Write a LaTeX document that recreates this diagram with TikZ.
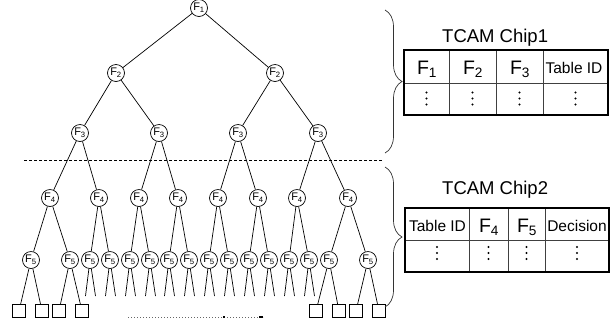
\documentclass[tikz,border=0pt]{standalone}
\usepackage{fontspec}
\setmainfont{Liberation Sans}
\usetikzlibrary{decorations.pathreplacing}
\begin{document}
\begin{tikzpicture}[x=1pt,y=-1pt,
  fn/.style={circle,draw,line width=0.7pt,inner sep=0pt,minimum size=17pt,font=\fontsize{11}{11}\selectfont},
  leaf/.style={rectangle,draw,line width=0.7pt,inner sep=0pt,minimum size=13pt},
  edge/.style={line width=0.7pt},
  bracestyle/.style={decorate,decoration={brace,amplitude=17pt},line width=0.7pt,black!80},
  title/.style={anchor=base west,inner sep=0pt,font=\fontsize{18.5}{18.5}\selectfont},
  hbig/.style={anchor=base,inner sep=0pt,font=\fontsize{19.5}{19.5}\selectfont},
  hsmall/.style={anchor=base,inner sep=0pt,font=\fontsize{15.5}{15.5}\selectfont},
  dot/.style={fill=black},
  outer/.style={line width=1.3pt},
  inner/.style={line width=0.8pt,black!75}]
\useasboundingbox (0,0) rectangle (612,325);

% tree nodes
\node[fn] (a) at (199,8) {F\textsubscript{1}};
\node[fn] (b1) at (116,73) {F\textsubscript{2}};
\node[fn] (b2) at (275,73) {F\textsubscript{2}};
\foreach \x [count=\i] in {80,159,238,318}
  \node[fn] (c\i) at (\x,133) {F\textsubscript{3}};
\foreach \x [count=\i] in {50,99,139,178,218,258,297,348}
  \node[fn] (d\i) at (\x,198) {F\textsubscript{4}};
\foreach \x [count=\i] in {31,70,90,110,130,150,169,189,209,229,249,269,289,309,329,368}
  \node[fn] (e\i) at (\x,260) {F\textsubscript{5}};
\foreach \x [count=\i] in {19,42,59,82,316,339,356,379}
  \node[leaf] (s\i) at (\x,311) {};

% edges
\draw[edge] (a) -- (b1);
\draw[edge] (a) -- (b2);
\draw[edge] (b1) -- (c1);
\draw[edge] (b1) -- (c2);
\draw[edge] (b2) -- (c3);
\draw[edge] (b2) -- (c4);
\foreach \i [evaluate=\i as \l using int(2*\i-1), evaluate=\i as \r using int(2*\i)] in {1,...,4}{
  \draw[edge] (c\i) -- (d\l);
  \draw[edge] (c\i) -- (d\r);
}
\foreach \i [evaluate=\i as \l using int(2*\i-1), evaluate=\i as \r using int(2*\i)] in {1,...,8}{
  \draw[edge] (d\i) -- (e\l);
  \draw[edge] (d\i) -- (e\r);
}
\draw[edge] (e1) -- (s1);
\draw[edge] (e1) -- (s2);
\draw[edge] (e2) -- (s3);
\draw[edge] (e2) -- (s4);
\draw[edge] (e15) -- (s5);
\draw[edge] (e15) -- (s6);
\draw[edge] (e16) -- (s7);
\draw[edge] (e16) -- (s8);
\foreach \i in {3,...,14}{
  \coordinate (eL\i) at ([xshift=-4.5pt]e\i.center |- 0,296);
  \coordinate (eR\i) at ([xshift=5.5pt]e\i.center |- 0,296);
  \draw[edge] (e\i) -- (eL\i);
  \draw[edge] (e\i) -- (eR\i);
}

% dashed separator
\draw[line width=0.8pt,dash pattern=on 3pt off 2pt] (24,160) -- (383,160);
% dotted line at bottom
\draw[line width=1pt,black!60,dash pattern=on 1pt off 2pt] (128,317) -- (263,317);
\fill (223,316) rectangle (225,318);
\fill (259,316) rectangle (263,318);

% braces
\draw[bracestyle] (385,10) -- (385,153);
\draw[bracestyle] (385,167) -- (385,307);

% table 1
\node[title] (t1) at (442,42) {TCAM Chip1};
\draw[inner] (404,83) -- (608,83);
\foreach \x in {449,496,543} \draw[inner] (\x,50) -- (\x,115);
\draw[outer] (404,50) rectangle (608,115);
\node[hbig] (h11) at (427,74) {F\textsubscript{1}};
\node[hbig] (h12) at (473,74) {F\textsubscript{2}};
\node[hbig] (h13) at (520,74) {F\textsubscript{3}};
\node[hsmall] (h14) at (574,73) {Table ID};
\foreach \x in {426.5,472.5,519.5,575.5}
  \foreach \y in {92.5,98.5,104.5}
    \fill[dot] (\x,\y) circle (1.1pt);

% table 2
\node[title] (t2) at (442,194) {TCAM Chip2};
\draw[inner] (405,240) -- (609,240);
\foreach \x in {469,508,545} \draw[inner] (\x,208) -- (\x,272);
\draw[outer] (405,208) rectangle (609,272);
\node[hsmall] (h21) at (437.5,231.7) {Table ID};
\node[hbig] (h22) at (489,232) {F\textsubscript{4}};
\node[hbig] (h23) at (527,232) {F\textsubscript{5}};
\node[hsmall] (h24) at (577,231.7) {Decision};
\foreach \x in {437,488.5,526.5,577}
  \foreach \y in {247,253,259}
    \fill[dot] (\x,\y) circle (1.1pt);
\end{tikzpicture}
\end{document}
